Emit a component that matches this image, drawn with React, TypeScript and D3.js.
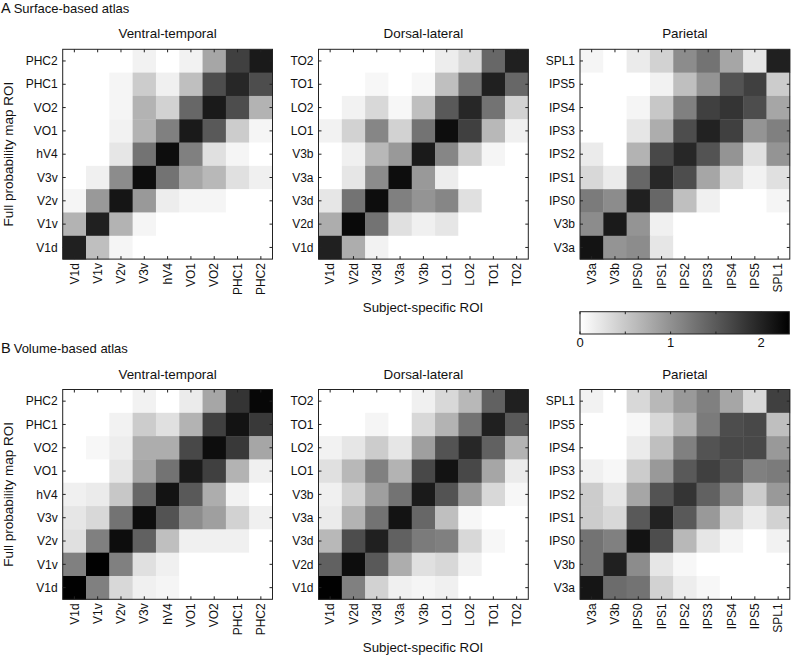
import React from "react";
import * as d3 from "d3";

// ---------- data ----------
const ventralLabels = ["V1d", "V1v", "V2v", "V3v", "hV4", "VO1", "VO2", "PHC1", "PHC2"];
const dorsalLabels = ["V1d", "V2d", "V3d", "V3a", "V3b", "LO1", "LO2", "TO1", "TO2"];
const parietalLabels = ["V3a", "V3b", "IPS0", "IPS1", "IPS2", "IPS3", "IPS4", "IPS5", "SPL1"];

const panelTitles = ["Ventral-temporal", "Dorsal-lateral", "Parietal"];
const sectionTitles = [
  { letter: "A", text: "Surface-based atlas" },
  { letter: "B", text: "Volume-based atlas" },
];
const colorbarTicks = [0, 0.5, 1, 1.5, 2];
const colorbarLabels = [0, 1, 2];
const colorMax = 2.31;

// rows listed from top (last label) to bottom (first label); columns in label order
const surfaceVentral = [
  [0, 0, 0, 0.12, 0, 0.12, 0.81, 1.73, 2.07],
  [0, 0, 0.09, 0.46, 0.14, 0.58, 1.61, 1.96, 1.61],
  [0, 0, 0.09, 0.69, 0.41, 1.38, 2.07, 1.61, 0.69],
  [0, 0, 0.12, 0.69, 1.15, 2.07, 1.5, 0.46, 0.09],
  [0, 0, 0.23, 1.27, 2.19, 1.15, 0.28, 0.09, 0],
  [0, 0.14, 1.04, 2.19, 1.27, 0.81, 0.64, 0.28, 0.14],
  [0.09, 0.92, 2.12, 0.92, 0.16, 0.09, 0.09, 0, 0],
  [0.69, 2.02, 0.69, 0.09, 0, 0, 0, 0, 0],
  [2.02, 0.58, 0.09, 0, 0, 0, 0, 0, 0],
];
const surfaceDorsal = [
  [0, 0, 0, 0, 0, 0.16, 0.35, 1.38, 2.02],
  [0, 0, 0.07, 0, 0.07, 0.58, 1.27, 2.02, 1.38],
  [0, 0.12, 0.35, 0.07, 0.58, 1.5, 1.96, 1.27, 0.41],
  [0.12, 0.41, 1.1, 0.41, 1.27, 2.19, 1.73, 0.64, 0.14],
  [0, 0.14, 0.64, 0.92, 2.07, 1.1, 0.46, 0.09, 0],
  [0, 0.23, 1.04, 2.19, 0.92, 0.16, 0, 0, 0],
  [0.23, 1.27, 2.19, 1.15, 0.97, 1.1, 0.28, 0, 0],
  [0.74, 2.23, 1.27, 0.28, 0.14, 0.23, 0, 0, 0],
  [2.02, 0.74, 0.12, 0, 0, 0, 0, 0, 0],
];
const surfaceParietal = [
  [0.09, 0, 0.18, 0.41, 1.04, 1.27, 0.81, 0.23, 2.02],
  [0, 0, 0, 0.12, 0.58, 0.97, 1.56, 1.73, 0.46],
  [0, 0, 0.09, 0.51, 1.15, 1.73, 1.84, 1.61, 0.81],
  [0, 0, 0.23, 0.74, 1.61, 2.0, 1.73, 0.97, 1.15],
  [0.18, 0, 0.69, 1.66, 1.96, 1.56, 0.97, 0.28, 0.97],
  [0.35, 0.18, 1.38, 1.96, 1.61, 0.81, 0.35, 0.12, 0.28],
  [1.2, 1.04, 2.02, 1.38, 0.58, 0.14, 0, 0, 0.09],
  [1.04, 2.07, 0.97, 0.14, 0, 0, 0, 0, 0],
  [2.14, 0.97, 1.04, 0.23, 0, 0, 0, 0, 0],
];
const volumeVentral = [
  [0, 0, 0, 0.12, 0, 0.18, 0.81, 1.84, 2.25],
  [0, 0, 0.12, 0.46, 0.28, 0.69, 1.73, 2.14, 1.79],
  [0, 0.07, 0.16, 0.74, 0.74, 1.66, 2.19, 1.79, 0.81],
  [0, 0, 0.23, 0.81, 1.27, 2.07, 1.73, 0.69, 0.14],
  [0.14, 0.18, 0.51, 1.38, 2.14, 1.5, 0.74, 0.12, 0],
  [0.23, 0.35, 1.27, 2.19, 1.56, 1.04, 0.87, 0.41, 0.14],
  [0.28, 1.15, 2.19, 1.43, 0.58, 0.14, 0.14, 0.14, 0],
  [1.15, 2.3, 1.15, 0.28, 0.14, 0, 0, 0, 0],
  [2.3, 1.15, 0.35, 0.14, 0.09, 0, 0, 0, 0],
];
const volumeDorsal = [
  [0, 0, 0, 0, 0.14, 0.35, 0.64, 1.43, 2.02],
  [0, 0, 0.09, 0, 0.35, 0.69, 1.27, 2.02, 1.5],
  [0.12, 0.23, 0.46, 0.23, 0.87, 1.56, 1.96, 1.43, 0.69],
  [0.28, 0.64, 1.15, 0.69, 1.66, 2.14, 1.66, 0.81, 0.18],
  [0.14, 0.41, 0.87, 1.27, 2.07, 1.56, 0.92, 0.35, 0.07],
  [0.18, 0.69, 1.27, 2.14, 1.38, 0.58, 0.07, 0, 0],
  [0.64, 1.61, 2.02, 1.43, 1.2, 1.15, 0.35, 0.07, 0],
  [1.43, 2.19, 1.5, 0.74, 0.28, 0.35, 0.12, 0, 0],
  [2.3, 1.15, 0.41, 0.14, 0.09, 0.14, 0, 0, 0],
];
const volumeParietal = [
  [0.12, 0, 0.35, 0.64, 0.92, 1.15, 0.81, 0.35, 1.73],
  [0, 0, 0.07, 0.35, 0.69, 1.2, 1.61, 1.66, 0.58],
  [0, 0, 0.18, 0.58, 1.15, 1.56, 1.66, 1.66, 0.92],
  [0.14, 0.07, 0.46, 0.92, 1.5, 1.73, 1.56, 1.15, 1.2],
  [0.46, 0.23, 0.81, 1.56, 1.84, 1.43, 1.04, 0.46, 0.92],
  [0.46, 0.35, 1.5, 2.0, 1.5, 0.92, 0.41, 0.18, 0.41],
  [1.27, 1.15, 2.14, 1.61, 0.64, 0.23, 0.09, 0, 0.12],
  [1.27, 2.02, 1.04, 0.23, 0.07, 0, 0, 0, 0],
  [2.12, 1.33, 1.27, 0.41, 0.16, 0.07, 0, 0, 0],
];

const panelLabels = [ventralLabels, dorsalLabels, parietalLabels];
const surfaceMatrices = [surfaceVentral, surfaceDorsal, surfaceParietal];
const volumeMatrices = [volumeVentral, volumeDorsal, volumeParietal];

// ---------- layout ----------
const W = 792;
const H = 658;
const panelLefts = [62.7, 318.5, 580];
const rowTops = [49.3, 389.5];
const size = 209.8;
const FONT = "'Liberation Sans', Arial, Helvetica, sans-serif";

const color = d3.scaleLinear<string>().domain([0, colorMax]).range(["#ffffff", "#000000"]).clamp(true);

function Heatmap({ left, top, labels, matrix, title }: { left: number; top: number; labels: string[]; matrix: number[][]; title: string }) {
  const x = d3.scaleBand<string>().domain(labels).range([left, left + size]);
  const yDomain = labels.slice().reverse();
  const y = d3.scaleBand<string>().domain(yDomain).range([top, top + size]);
  const bw = x.bandwidth();
  const bh = y.bandwidth();
  const tl = 3;
  return (
    <g>
      <text x={left + size / 2} y={top - 11} textAnchor="middle" fontSize={13.4} fill="#111">
        {title}
      </text>
      {matrix.map((row, ri) =>
        row.map((v, ci) => (
          <rect
            key={`${ri}-${ci}`}
            x={x(labels[ci])!}
            y={y(yDomain[ri])!}
            width={bw + 0.4}
            height={bh + 0.4}
            fill={color(v)}
          />
        ))
      )}
      <rect x={left} y={top} width={size} height={size} fill="none" stroke="#222" strokeWidth={1} />
      {labels.map((l) => {
        const cx = x(l)! + bw / 2;
        return (
          <g key={"xt" + l}>
            <line x1={cx} x2={cx} y1={top + size} y2={top + size - tl} stroke="#222" />
            <line x1={cx} x2={cx} y1={top} y2={top + tl} stroke="#222" />
            <text
              transform={`translate(${cx},${top + size + 4}) rotate(-90)`}
              textAnchor="end"
              dy="0.35em"
              fontSize={12}
              fill="#111"
            >
              {l}
            </text>
          </g>
        );
      })}
      {yDomain.map((l) => {
        const cy = y(l)! + bh / 2;
        return (
          <g key={"yt" + l}>
            <line x1={left} x2={left + tl} y1={cy} y2={cy} stroke="#222" />
            <line x1={left + size} x2={left + size - tl} y1={cy} y2={cy} stroke="#222" />
            <text x={left - 5} y={cy} dy="0.35em" textAnchor="end" fontSize={12} fill="#111">
              {l}
            </text>
          </g>
        );
      })}
    </g>
  );
}

function Colorbar() {
  const left = 580;
  const right = 789.3;
  const top = 311.7;
  const h = 22.3;
  const xs = d3.scaleLinear().domain([0, colorMax]).range([left, right]);
  const stops = d3.range(0, 11).map((i) => i / 10);
  return (
    <g>
      <defs>
        <linearGradient id="cbgrad" x1="0" x2="1" y1="0" y2="0">
          {stops.map((s) => (
            <stop key={s} offset={s} stopColor={color(s * colorMax)} />
          ))}
        </linearGradient>
      </defs>
      <rect x={left} y={top} width={right - left} height={h} fill="url(#cbgrad)" stroke="#222" strokeWidth={1} />
      {colorbarTicks.map((t) => (
        <g key={t}>
          <line x1={xs(t)} x2={xs(t)} y1={top} y2={top + 2.5} stroke="#222" />
          <line x1={xs(t)} x2={xs(t)} y1={top + h} y2={top + h - 2.5} stroke="#222" />
        </g>
      ))}
      {colorbarLabels.map((t) => (
        <text key={"l" + t} x={xs(t)} y={top + h + 13} textAnchor="middle" fontSize={13} fill="#111">
          {t}
        </text>
      ))}
    </g>
  );
}

export default function App() {
  const sections = [surfaceMatrices, volumeMatrices];
  return (
    <svg width={W} height={H} style={{ position: "absolute", left: 0, top: 0, background: "#fff" }} fontFamily={FONT}>
      <rect x={0} y={0} width={W} height={H} fill="#fff" />
      {sections.map((mats, si) => {
        const top = rowTops[si];
        return (
          <g key={si}>
            <text x={1} y={top - 36.8} fontSize={14.5} fill="#111">
              {sectionTitles[si].letter}
              <tspan dx={3} fontSize={13}>
                {sectionTitles[si].text}
              </tspan>
            </text>
            <text
              transform={`translate(13,${top + size / 2}) rotate(-90)`}
              textAnchor="middle"
              fontSize={13.5}
              fill="#111"
            >
              Full probability map ROI
            </text>
            <text x={423} y={top + 262.3} textAnchor="middle" fontSize={13.3} fill="#111">
              Subject-specific ROI
            </text>
            {mats.map((m, pi) => (
              <Heatmap
                key={pi}
                left={panelLefts[pi]}
                top={top}
                labels={panelLabels[pi]}
                matrix={m}
                title={panelTitles[pi]}
              />
            ))}
          </g>
        );
      })}
      <Colorbar />
    </svg>
  );
}
